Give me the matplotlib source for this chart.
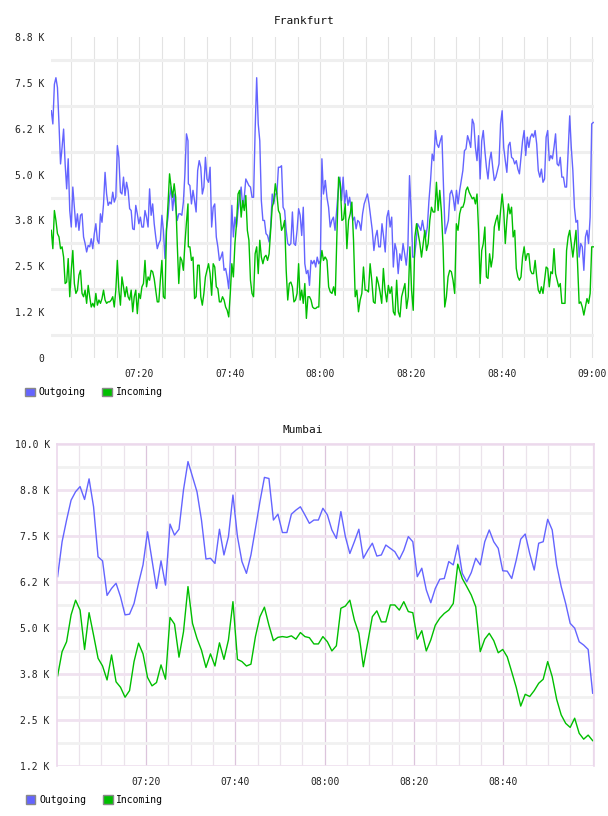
import numpy as np
import matplotlib
matplotlib.use('Agg')
import matplotlib.pyplot as plt
from matplotlib.patches import Patch

plt.rcParams['font.family'] = ['DejaVu Sans Mono']

# ---- Frankfurt: values in thousands, read in four chunks (minutes after 07:00)
fra_spans = [(0.60, 30.77), (30.85, 61.02), (61.09, 91.11), (91.45, 120.24)]

fra_out_a = [6.74, 6.38, 7.46, 7.64, 7.37, 6.38, 5.29, 5.74, 6.24, 5.29,
             4.61, 5.43, 4.02, 3.57, 4.66, 4.11, 3.57, 3.93, 3.48, 3.89,
             3.93, 3.30, 3.12, 2.89, 3.07, 3.03, 3.25, 2.98, 3.39, 3.66,
             3.21, 3.12, 3.93, 3.70, 4.20, 5.06, 4.47, 4.16, 4.25, 4.20,
             4.52, 4.25, 4.38, 5.79, 5.47, 4.52, 4.47, 4.93, 4.43, 4.79,
             4.57, 4.07, 4.02, 3.52, 3.50, 4.16, 3.93, 3.66, 3.84, 3.57,
             3.57, 4.02, 3.84, 3.57, 4.61, 3.89, 4.20, 3.66, 3.30, 2.98,
             3.12, 3.21, 3.89, 3.48, 2.71, 3.52, 3.84, 4.38, 4.66, 4.02,
             4.47, 4.11, 3.75, 3.93, 3.93, 3.89, 4.25, 5.02, 6.11, 5.92]
fra_out_b = [4.75, 4.70, 4.20, 4.57, 4.29, 3.98, 5.11, 5.38, 5.20,
             4.47, 4.66, 5.47, 4.88, 4.79, 5.20, 3.57, 4.11, 4.20, 3.30,
             3.03, 2.66, 2.75, 2.89, 2.39, 2.44, 2.21, 1.89, 2.66, 4.16,
             3.30, 3.84, 3.57, 4.02, 4.38, 4.66, 4.11, 4.38, 4.88, 4.79,
             4.70, 4.66, 4.38, 4.38, 6.20, 7.64, 6.38, 5.92, 4.29, 3.75,
             3.75, 3.39, 3.34, 3.16, 3.57, 4.47, 4.20, 4.47, 4.47, 5.20,
             5.20, 5.24, 4.11, 4.02, 3.48, 3.12, 3.07, 3.12, 3.98, 3.12,
             3.07, 3.48, 4.07, 3.89, 3.34, 4.11, 2.57, 2.30, 2.39, 1.98,
             2.66, 2.57, 2.66, 2.48, 2.75, 2.57, 2.66, 5.43, 4.47, 4.75]
fra_out_c = [4.84, 4.38, 4.11, 3.57, 3.75, 3.84, 3.48, 4.02, 4.57, 4.93,
             4.29, 4.93, 4.20, 4.57, 4.16, 4.38, 4.07, 3.75, 3.84, 3.52,
             3.75, 3.70, 3.48, 3.93, 4.20, 4.34, 4.47, 4.20, 3.84, 3.48,
             2.93, 3.30, 3.48, 3.03, 3.03, 3.66, 3.30, 2.89, 3.84, 4.02,
             3.57, 3.84, 2.48, 3.12, 2.93, 2.30, 2.84, 2.66, 3.12, 2.84,
             2.53, 3.03, 4.97, 4.02, 2.75, 2.75, 3.12, 3.66, 3.57, 3.48,
             3.75, 3.48, 3.30, 3.57, 4.29, 4.84, 5.56, 5.38, 6.20, 5.83,
             5.74, 5.92, 6.06, 4.66, 3.39, 3.57, 3.75, 4.47, 4.57, 4.38,
             4.02, 4.57, 4.20, 4.57, 4.84]
fra_out_d = [5.11, 5.65, 5.70, 6.06, 5.92, 5.74, 6.51, 6.38, 5.74, 5.38,
             6.06, 4.88, 5.92, 6.20, 5.65, 5.20, 4.88, 5.38, 5.61, 5.20,
             4.84, 4.93, 5.11, 5.29, 6.38, 6.74, 5.74, 5.38, 5.06, 5.79,
             5.88, 5.47, 5.43, 5.29, 5.38, 5.15, 5.02, 5.47, 5.92, 6.20,
             5.52, 6.02, 5.74, 6.02, 6.11, 6.02, 6.20, 5.83, 5.11, 4.93,
             5.15, 4.79, 4.88, 6.02, 6.20, 5.38, 5.52, 5.43, 5.74, 6.11,
             5.29, 5.24, 5.47, 4.93, 4.93, 4.66, 4.66, 5.65, 6.60, 5.74,
             5.11, 4.11, 3.70, 3.75, 2.75, 3.12, 3.03, 2.39, 3.30, 3.48,
             3.12, 3.84, 6.38, 6.42]

fra_in_a = [3.48, 2.98, 4.02, 3.75, 3.39, 3.30, 2.98, 3.03, 2.75, 2.03,
            2.07, 2.71, 1.67, 2.39, 2.93, 2.03, 1.76, 1.85, 2.26, 2.39,
            1.76, 1.67, 1.85, 1.49, 1.98, 1.67, 1.39, 1.49, 1.39, 1.76,
            1.44, 1.58, 1.49, 1.62, 1.85, 1.58, 1.49, 1.53, 1.53, 1.58,
            1.67, 1.39, 1.85, 2.66, 1.85, 1.44, 2.21, 1.94, 1.67, 1.94,
            1.67, 1.58, 1.85, 1.26, 1.67, 1.85, 1.21, 1.76, 1.62, 1.94,
            2.03, 2.66, 1.94, 2.21, 2.12, 2.39, 2.35, 2.16, 1.85, 1.53,
            1.53, 2.12, 2.66, 1.67, 1.62, 3.48, 4.20, 5.02, 4.66, 4.38,
            4.75, 4.38, 3.12, 2.03, 2.75, 2.66, 2.39, 3.12, 3.70, 4.20]
fra_in_b = [3.03, 3.03, 2.66, 2.75, 1.62, 1.67, 2.53, 2.53, 1.67,
            1.44, 1.76, 2.21, 2.39, 2.57, 2.30, 1.71, 2.57, 2.48, 1.94,
            1.89, 1.53, 1.53, 1.67, 1.58, 1.39, 1.30, 1.12, 1.76, 2.57,
            2.21, 3.12, 3.66, 4.47, 4.57, 3.84, 4.29, 4.02, 4.43, 3.48,
            3.21, 2.12, 1.76, 1.67, 2.84, 3.03, 2.30, 3.21, 2.75, 2.57,
            2.75, 2.80, 2.66, 2.84, 3.48, 4.11, 4.29, 4.75, 4.47, 4.02,
            3.93, 3.48, 3.57, 3.75, 2.39, 1.58, 2.03, 2.07, 1.94, 1.53,
            1.58, 1.76, 2.57, 1.58, 1.85, 1.49, 2.03, 1.08, 1.67, 1.67,
            1.58, 1.39, 1.35, 1.35, 1.39, 1.39, 2.57, 2.93, 2.66, 2.75]
fra_in_c = [2.75, 2.66, 1.94, 1.80, 1.76, 1.94, 1.71, 3.39, 4.93, 4.75,
            3.75, 3.79, 4.20, 2.98, 3.75, 3.93, 4.25, 3.21, 1.67, 1.85,
            1.26, 1.58, 1.76, 2.48, 1.85, 1.85, 1.80, 2.57, 2.12, 1.53,
            1.49, 2.21, 2.03, 1.80, 1.49, 2.44, 1.85, 1.53, 1.98, 1.76,
            1.94, 1.26, 1.17, 2.12, 1.26, 1.12, 1.67, 1.85, 2.03, 1.35,
            1.67, 3.03, 1.85, 1.30, 3.30, 3.66, 3.39, 3.12, 2.75, 3.12,
            3.48, 2.93, 3.12, 3.75, 4.11, 3.98, 3.98, 4.79, 4.02, 4.57,
            3.98, 3.03, 1.39, 1.67, 2.21, 2.39, 2.35, 2.12, 1.76, 3.66,
            3.48, 3.93, 4.11]
fra_in_d = [4.11, 4.25, 4.57, 4.66, 4.52, 4.43, 4.34, 4.38, 4.20, 4.47,
            3.48, 2.03, 2.93, 3.12, 3.57, 2.21, 2.17, 2.84, 2.48, 2.75,
            3.57, 3.75, 3.89, 3.48, 4.02, 4.47, 4.02, 3.12, 3.75, 4.20,
            3.93, 4.11, 3.30, 3.48, 2.44, 2.21, 2.12, 2.21, 2.75, 3.03,
            2.66, 2.84, 2.84, 2.39, 2.30, 2.30, 2.66, 2.21, 1.85, 1.76,
            1.94, 1.76, 2.12, 2.48, 2.44, 1.94, 2.35, 2.30, 2.98, 2.30,
            2.12, 1.94, 2.03, 1.49, 1.49, 1.49, 2.93, 3.30, 3.48, 3.12,
            2.75, 3.12, 3.48, 2.57, 1.49, 1.53, 1.39, 1.17, 1.39, 1.62,
            1.49, 1.76, 3.03, 3.03]

# ---- Mumbai: one sample per minute, values in thousands
mum_out = [6.40, 7.35, 7.94, 8.48, 8.71, 8.85, 8.50, 9.06, 8.30, 6.94,
           6.83, 5.89, 6.08, 6.22, 5.85, 5.36, 5.38, 5.67, 6.22, 6.72,
           7.62, 6.85, 6.08, 6.83, 6.17, 7.83, 7.53, 7.69, 8.76, 9.53,
           9.12, 8.71, 7.94, 6.88, 6.90, 6.76, 7.69, 6.99, 7.49, 8.62,
           7.49, 6.81, 6.49, 6.99, 7.71, 8.44, 9.10, 9.07, 7.94, 8.10,
           7.60, 7.60, 8.10, 8.21, 8.30, 8.08, 7.85, 7.94, 7.94, 8.26,
           8.08, 7.67, 7.44, 8.17, 7.49, 7.03, 7.35, 7.69, 6.90, 7.12,
           7.31, 6.96, 6.99, 7.26, 7.17, 7.08, 6.87, 7.12, 7.49, 7.35,
           6.40, 6.63, 6.04, 5.69, 6.08, 6.33, 6.35, 6.81, 6.72, 7.26,
           6.49, 6.26, 6.51, 6.90, 6.72, 7.35, 7.67, 7.35, 7.17, 6.56,
           6.55, 6.35, 6.85, 7.42, 7.56, 7.03, 6.58, 7.31, 7.35, 7.96,
           7.67, 6.72, 6.13, 5.67, 5.13, 5.00, 4.63, 4.54, 4.42, 3.23]
mum_in = [3.70, 4.36, 4.63, 5.36, 5.76, 5.49, 4.42, 5.42, 4.81, 4.18,
          3.97, 3.59, 4.27, 3.54, 3.39, 3.12, 3.30, 4.09, 4.59, 4.30,
          3.66, 3.43, 3.52, 4.00, 3.61, 5.29, 5.11, 4.21, 4.90, 6.13,
          5.13, 4.72, 4.40, 3.93, 4.30, 3.97, 4.60, 4.15, 4.68, 5.72,
          4.15, 4.09, 3.97, 4.02, 4.77, 5.31, 5.57, 5.08, 4.66, 4.75,
          4.77, 4.75, 4.79, 4.70, 4.88, 4.77, 4.74, 4.57, 4.57, 4.77,
          4.63, 4.38, 4.52, 5.54, 5.60, 5.76, 5.22, 4.86, 3.95, 4.63,
          5.31, 5.47, 5.17, 5.17, 5.63, 5.63, 5.49, 5.72, 5.45, 5.42,
          4.70, 4.93, 4.38, 4.68, 5.08, 5.27, 5.40, 5.49, 5.67, 6.74,
          6.35, 6.13, 5.90, 5.58, 4.36, 4.70, 4.86, 4.66, 4.33, 4.42,
          4.22, 3.81, 3.39, 2.88, 3.20, 3.14, 3.30, 3.50, 3.61, 4.09,
          3.68, 3.06, 2.64, 2.41, 2.30, 2.55, 2.14, 1.98, 2.09, 1.94]

fra_yticks = [0, 1.25, 2.5, 3.75, 5.0, 6.25, 7.5, 8.75]
fra_ylabels = ['0', '1.2 K', '2.5 K', '3.8 K', '5.0 K', '6.2 K', '7.5 K', '8.8 K']
mum_yticks = [1.25, 2.5, 3.75, 5.0, 6.25, 7.5, 8.75, 10.0]
mum_ylabels = ['1.2 K', '2.5 K', '3.8 K', '5.0 K', '6.2 K', '7.5 K', '8.8 K', '10.0 K']
xticks = [20, 40, 60, 80, 100, 120]
xlabels = ['07:20', '07:40', '08:00', '08:20', '08:40', '09:00']

OUT_C = '#6464ff'
IN_C = '#00bf00'


def chunk_times(chunks):
    return np.concatenate([np.linspace(a, b, len(c)) for (a, b), c in zip(fra_spans, chunks)])


fig = plt.figure(figsize=(6.08, 8.16), dpi=100)

# ---------------- Frankfurt
ax = fig.add_axes([51 / 608, 1 - 358 / 816, 543 / 608, 321 / 816])
out_chunks = [fra_out_a, fra_out_b, fra_out_c, fra_out_d]
in_chunks = [fra_in_a, fra_in_b, fra_in_c, fra_in_d]
ax.plot(chunk_times(out_chunks), np.concatenate(out_chunks), color=OUT_C, lw=1.0)
ax.plot(chunk_times(in_chunks), np.concatenate(in_chunks), color=IN_C, lw=1.0)
ax.set_xlim(0.53, 120.4)
ax.set_ylim(0, 8.75)
ax.set_yticks(fra_yticks)
ax.set_yticklabels(fra_ylabels)
ax.set_yticks(np.arange(0.625, 8.75, 1.25), minor=True)
ax.set_xticks(xticks)
ax.set_xticklabels(xlabels)
ax.set_xticks(np.arange(5, 121, 5), minor=True)
ax.grid(False)
ax.grid(which='minor', axis='y', color='#efefef', lw=2.2)
ax.grid(which='both', axis='x', color='#e3e3e3', lw=0.8)
ax.set_axisbelow(True)
for s in ax.spines.values():
    s.set_visible(False)
ax.tick_params(which='both', length=0)
ax.tick_params(axis='y', pad=5, labelsize=7, labelcolor='#222222')
ax.tick_params(axis='x', pad=8, labelsize=7, labelcolor='#222222')
ax.set_title('Frankfurt', fontsize=8, pad=9, color='#111111', x=0.466)
ax.legend(handles=[Patch(facecolor=OUT_C, edgecolor='#888888', label='Outgoing'),
                   Patch(facecolor=IN_C, edgecolor='#888888', label='Incoming')],
          loc='center left', bbox_to_anchor=(-0.055, -0.107), ncol=2, frameon=False,
          fontsize=7, handlelength=1.0, handleheight=1.0, handletextpad=0.4,
          columnspacing=1.7, borderaxespad=0)

# ---------------- Mumbai
ax2 = fig.add_axes([56.7 / 608, 1 - 766 / 816, 537.3 / 608, 321.7 / 816])
mum_t = np.linspace(0.2, 120.0, len(mum_out))
ax2.plot(mum_t, mum_out, color=OUT_C, lw=1.0)
ax2.plot(mum_t, mum_in, color=IN_C, lw=1.0)
ax2.set_xlim(0, 120.3)
ax2.set_ylim(1.25, 10.0)
ax2.set_yticks(mum_yticks)
ax2.set_yticklabels(mum_ylabels)
ax2.set_yticks(np.arange(1.875, 10.0, 1.25), minor=True)
ax2.set_xticks(xticks[:-1])
ax2.set_xticklabels(xlabels[:-1])
ax2.set_xticks(np.arange(5, 121, 5), minor=True)
ax2.grid(False)
ax2.grid(which='major', axis='y', color='#f0e2f0', lw=2.0)
ax2.grid(which='minor', axis='y', color='#f1f1f1', lw=2.0)
ax2.grid(which='major', axis='x', color='#dcc4dc', lw=0.9)
ax2.grid(which='minor', axis='x', color='#ebe3eb', lw=0.9)
ax2.set_axisbelow(True)
ax2.spines['bottom'].set_visible(False)
for side in ['left', 'top', 'right']:
    ax2.spines[side].set_color('#ecd8ec')
    ax2.spines[side].set_linewidth(1.2)
ax2.tick_params(which='both', length=0)
ax2.tick_params(axis='y', pad=5, labelsize=7, labelcolor='#222222')
ax2.tick_params(axis='x', pad=8, labelsize=7, labelcolor='#222222')
ax2.set_title('Mumbai', fontsize=8, pad=8, color='#111111', x=0.458)
ax2.legend(handles=[Patch(facecolor=OUT_C, edgecolor='#888888', label='Outgoing'),
                    Patch(facecolor=IN_C, edgecolor='#888888', label='Incoming')],
           loc='center left', bbox_to_anchor=(-0.065, -0.105), ncol=2, frameon=False,
           fontsize=7, handlelength=1.0, handleheight=1.0, handletextpad=0.4,
           columnspacing=1.7, borderaxespad=0)

fig.savefig('out.png', dpi=100, facecolor='white')
